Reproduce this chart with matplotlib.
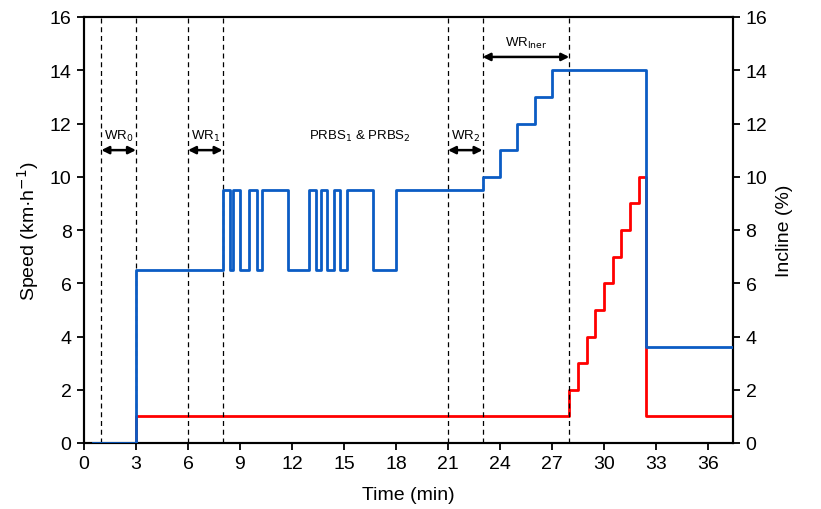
import numpy as np
import matplotlib
matplotlib.use("Agg")
import matplotlib.pyplot as plt

plt.rcParams['font.family'] = ['Liberation Sans', 'DejaVu Sans']

# speed profile (step "post": value holds from time t until next time)
speed_t = [0.5, 3, 8, 8.4, 8.6, 9.0, 9.5, 10.0, 10.25, 11.75, 13.0, 13.4, 13.65, 14.0,
           14.45, 14.8, 15.15, 16.7, 18.0, 23, 24, 25, 26, 27, 32.45, 37.45]
speed_v = [0, 6.5, 9.5, 6.5, 9.5, 6.5, 9.5, 6.5, 9.5, 6.5, 9.5, 6.5, 9.5, 6.5,
           9.5, 6.5, 9.5, 6.5, 9.5, 10, 11, 12, 13, 14, 3.6, 3.6]

incline_t = [0.5, 3, 28, 28.5, 29, 29.5, 30, 30.5, 31, 31.5, 32, 32.45, 37.45]
incline_v = [0, 1, 2, 3, 4, 5, 6, 7, 8, 9, 10, 1, 1]

phase_lines = [1, 3, 6, 8, 21, 23, 28]
arrows = [(1, 3, 11, "WR$_0$"), (6, 8, 11, "WR$_1$"), (21, 23, 11, "WR$_2$"),
          (23, 28, 14.5, "WR$_{\\mathrm{Iner}}$")]

fig = plt.figure(figsize=(8.21, 5.10), dpi=100)
ax = fig.add_axes([84 / 821, 1 - 444 / 510, (733 - 84) / 821, (444 - 18) / 510])
ax2 = ax.twinx()

for x in phase_lines:
    ax.axvline(x, color="black", linestyle=(0, (4, 3)), linewidth=0.9, zorder=1)

ax2.step(incline_t, incline_v, where="post", color="#ff0000", linewidth=2, zorder=2)
ax.step(speed_t, speed_v, where="post", color="#0b5cc4", linewidth=2, zorder=3)
ax.set_zorder(ax2.get_zorder() + 1)
ax.patch.set_visible(False)

for x0, x1, y, lab in arrows:
    ax.annotate("", xy=(x0, y), xytext=(x1, y),
                arrowprops=dict(arrowstyle="<|-|>", color="black", lw=1.8,
                                mutation_scale=11, shrinkA=0, shrinkB=0))
    ax.text((x0 + x1) / 2, y + 0.25, lab, ha="center", va="bottom", fontsize=9.5)
ax.text(15.9, 11.25, "PRBS$_1$ & PRBS$_2$", ha="center", va="bottom", fontsize=9.5)

ax.set_xlim(0, 37.45)
ax.set_ylim(0, 16)
ax2.set_ylim(0, 16)
ax.set_xticks(np.arange(0, 37, 3))
ax.set_yticks(np.arange(0, 17, 2))
ax2.set_yticks(np.arange(0, 17, 2))

for a in (ax, ax2):
    a.tick_params(direction="out", length=5, width=1.3, labelsize=14, pad=4)
    for s in a.spines.values():
        s.set_linewidth(1.5)

ax.set_xlabel("Time (min)", fontsize=14, labelpad=10)
ax.set_ylabel("Speed (km·h$^{-1}$)", fontsize=14, labelpad=6)
ax2.set_ylabel("Incline (%)", fontsize=14, labelpad=6)

fig.savefig("out.png", dpi=100)
